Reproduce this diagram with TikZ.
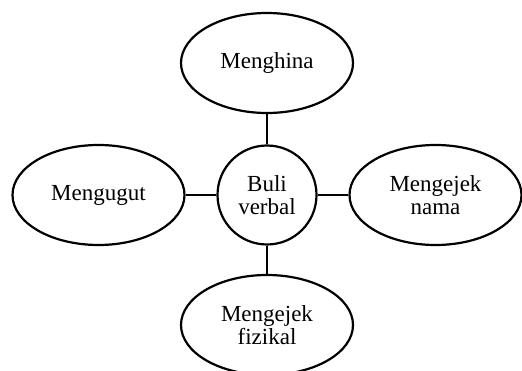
\documentclass[tikz,border=0pt]{standalone}
\usepackage{fontspec}
\setmainfont{Liberation Serif}
\usetikzlibrary{shapes.geometric}
\begin{document}
\begin{tikzpicture}[x=1pt,y=-1pt,
  bubble/.style={draw=black, line width=2.2pt, ellipse, minimum width=172pt, minimum height=100pt, inner sep=0pt, align=center, font=\fontsize{23}{23}\selectfont},
  hub/.style={draw=black, line width=2.2pt, circle, minimum size=99pt, inner sep=0pt, align=center, font=\fontsize{23}{23}\selectfont},
  link/.style={line width=2.2pt}]
\useasboundingbox (0,0) rectangle (522,371);
\node[hub] (c) at (267,195) {Buli\\verbal};
\node[bubble] (t) at (267,63) {Menghina};
\node[bubble] (l) at (98.5,195) {Mengugut};
\node[bubble] (r) at (435.5,195) {Mengejek\\nama};
\node[bubble] (b) at (267,325) {Mengejek\\fizikal};
\draw[link] (c) -- (t);
\draw[link] (c) -- (l);
\draw[link] (c) -- (r);
\draw[link] (c) -- (b);
\end{tikzpicture}
\end{document}
